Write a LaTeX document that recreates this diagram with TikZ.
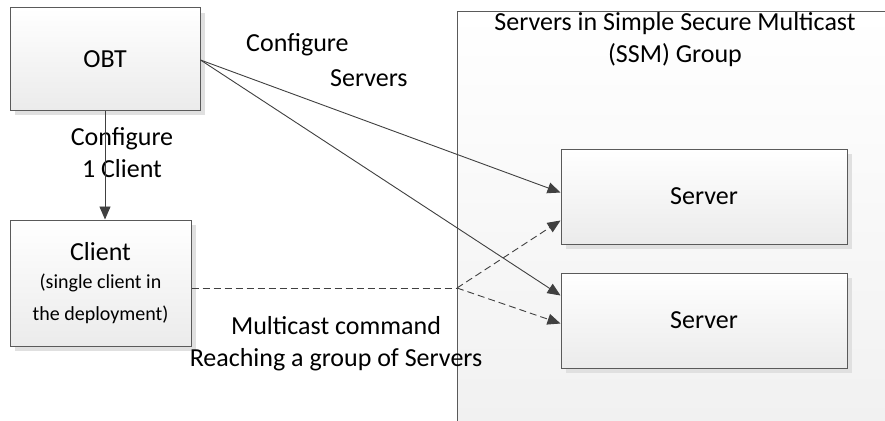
\documentclass[tikz,border=0pt]{standalone}
\usepackage{fontspec}
\setmainfont{Carlito}
\usetikzlibrary{arrows.meta,shadows,calc}
\definecolor{edgegray}{HTML}{5A5A5A}
\definecolor{linegray}{HTML}{404040}
\definecolor{shadowgray}{HTML}{E0E0E0}
\definecolor{boxbottom}{HTML}{EBEBEB}
\definecolor{groupbottom}{HTML}{F0F0F0}
\tikzset{
  boxnode/.style={draw=edgegray, line width=1pt, top color=white, bottom color=boxbottom,
    drop shadow={shadow xshift=5pt, shadow yshift=-5pt, fill=shadowgray, opacity=1},
    inner sep=0pt, align=center, font=\fontsize{26}{32}\selectfont},
  lbl/.style={inner sep=0pt, font=\fontsize{26}{32}\selectfont, text=black},
  conn/.style={draw=linegray, line width=0.9pt, -{Triangle[length=13pt,width=11pt]}},
  dconn/.style={conn, dash pattern=on 7pt off 4pt},
}
\begin{document}
\begin{tikzpicture}[x=1pt,y=-1pt]
\useasboundingbox (0,0) rectangle (885,420);
\clip (0,0) rectangle (885,420);
\fill[white] (0,0) rectangle (885,420);
% group area
\node[draw=edgegray, line width=1pt, top color=white, bottom color=groupbottom,
      minimum width=460pt, minimum height=440pt, anchor=north west, inner sep=0pt] (group) at (457,11) {};
\node[lbl, align=center] (grouptitle) at (675,40) {Servers in Simple Secure Multicast\\(SSM) Group};
% boxes
\node[boxnode, minimum width=190pt, minimum height=102pt] (obt) at (105,59) {OBT};
\node[boxnode, minimum width=181pt, minimum height=126pt] (client) at (100.5,283)
  {Client\\[-4pt]{\fontsize{20}{31}\selectfont (single client in}\\[0pt]{\fontsize{20}{31}\selectfont the deployment)}};
\node[boxnode, minimum width=286pt, minimum height=95pt] (s1) at (704,196.5) {Server};
\node[boxnode, minimum width=286pt, minimum height=95pt] (s2) at (704,320.5) {Server};
% labels
\node[lbl, align=left, anchor=north west] (cfgsrv) at (246,33) {Configure\\[3pt]\hspace*{84pt}Servers};
\node[lbl, align=center] (cfgcli) at (122,153) {Configure\\1 Client};
\node[lbl, align=center] (mc) at (336,344) {Multicast command\\Reaching a group of Servers};
% connectors
\draw[conn] (obt.south) -- (obt.south |- client.north);
\draw[conn] ([yshift=-1pt]obt.east) -- ([yshift=4pt]s1.west);
\draw[conn] ([yshift=-1pt]obt.east) -- ([yshift=25pt]s2.west);
\coordinate (junc) at (457,288);
\draw[draw=linegray, line width=0.9pt, dash pattern=on 7pt off 4pt] ([yshift=-5pt]client.east) -- (junc);
\draw[dconn] (junc) -- ([yshift=-24pt]s1.west);
\draw[dconn] (junc) -- ([yshift=-3pt]s2.west);
\end{tikzpicture}
\end{document}
